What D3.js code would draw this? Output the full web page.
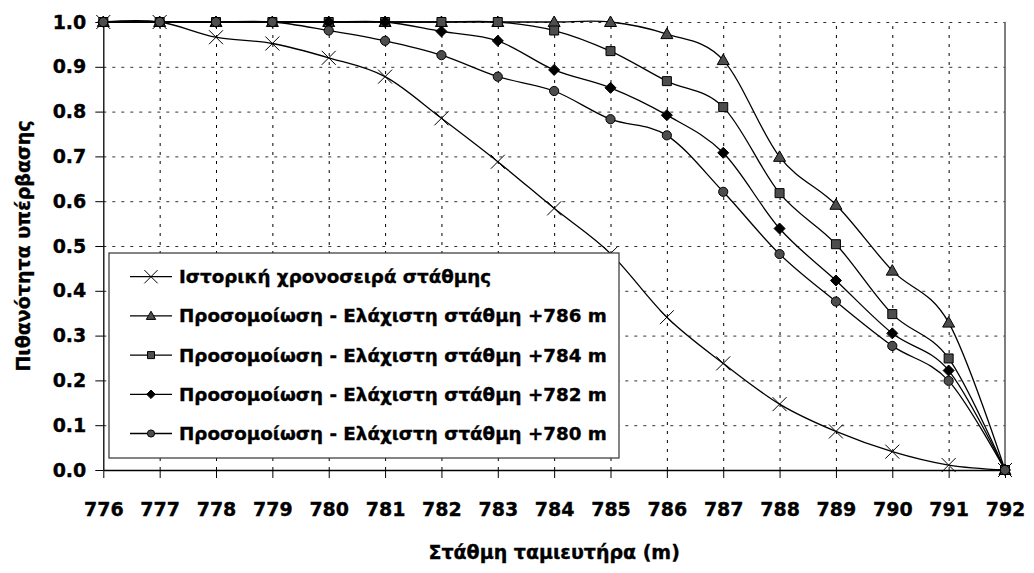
<!DOCTYPE html>
<html>
<head>
<meta charset="utf-8">
<script src="https://cdn.jsdelivr.net/npm/d3@7"></script>
<style>
    body { margin: 0; background: #fff; }
    svg text { font-family: "DejaVu Sans", Verdana, sans-serif; font-weight: bold; fill: #000; stroke: #000; stroke-width: 0.35px; }
</style>
</head>
<body>
<div class="graph"></div>
<script>
/* Data */
const levels = [776, 777, 778, 779, 780, 781, 782, 783, 784, 785, 786, 787, 788, 789, 790, 791, 792];
const y_ticks = [0.0, 0.1, 0.2, 0.3, 0.4, 0.5, 0.6, 0.7, 0.8, 0.9, 1.0];

const historic = [1.0, 1.0, 0.966, 0.952, 0.920, 0.878, 0.785, 0.688, 0.584, 0.483, 0.341, 0.238, 0.147, 0.086, 0.041, 0.011, 0.0];
const sim_786  = [1.0, 1.0, 1.0, 1.0, 1.0, 1.0, 1.0, 1.0, 1.0, 1.0, 0.973, 0.915, 0.699, 0.592, 0.445, 0.329, 0.0];
const sim_784  = [1.0, 1.0, 1.0, 1.0, 1.0, 1.0, 1.0, 1.0, 0.981, 0.935, 0.868, 0.810, 0.618, 0.504, 0.348, 0.249, 0.0];
const sim_782  = [1.0, 1.0, 1.0, 1.0, 1.0, 1.0, 0.979, 0.958, 0.893, 0.853, 0.792, 0.708, 0.539, 0.423, 0.305, 0.222, 0.0];
const sim_780  = [1.0, 1.0, 1.0, 1.0, 0.981, 0.958, 0.926, 0.878, 0.846, 0.783, 0.747, 0.621, 0.482, 0.376, 0.277, 0.199, 0.0];

const series_names = [
    'Ιστορική χρονοσειρά στάθμης',
    'Προσομοίωση - Ελάχιστη στάθμη +786 m',
    'Προσομοίωση - Ελάχιστη στάθμη +784 m',
    'Προσομοίωση - Ελάχιστη στάθμη +782 m',
    'Προσομοίωση - Ελάχιστη στάθμη +780 m'
];
const x_title = 'Στάθμη ταμιευτήρα (m)';
const y_title = 'Πιθανότητα υπέρβασης';

/* Layout */
const svg_dimensions = { width: 1034, height: 573 };
const plot = { left: 103.3, right: 1005, top: 22, bottom: 470 };
const marker_types = ['x', 'triangle', 'square', 'diamond', 'circle'];
const marker_fill = { x: 'none', triangle: '#4d4d4d', square: '#4d4d4d', diamond: '#000', circle: '#4d4d4d' };

// simple marker paths, s = scale
function marker_path(type, s) {
    switch (type) {
        case 'x':
            return 'M' + (-7*s) + ',' + (-7*s) + 'L' + (7*s) + ',' + (7*s) + 'M' + (-7*s) + ',' + (7*s) + 'L' + (7*s) + ',' + (-7*s);
        case 'triangle':
            return 'M0,' + (-6*s) + 'L' + (6*s) + ',' + (4.5*s) + 'L' + (-6*s) + ',' + (4.5*s) + 'Z';
        case 'square':
            return 'M' + (-4.5*s) + ',' + (-4.5*s) + 'h' + (9*s) + 'v' + (9*s) + 'h' + (-9*s) + 'Z';
        case 'diamond':
            return 'M0,' + (-5.5*s) + 'L' + (5.5*s) + ',0L0,' + (5.5*s) + 'L' + (-5.5*s) + ',0Z';
        case 'circle':
            return d3.symbol(d3.symbolCircle, Math.PI * Math.pow(4.6*s, 2))();
    }
}

const x_scale = d3.scaleLinear()
                .domain([levels[0], levels[levels.length - 1]])
                .range([plot.left, plot.right]);

const y_scale = d3.scaleLinear()
                .domain([0, 1])
                .range([plot.bottom, plot.top]);

let container = d3.select('.graph')
    .append('svg')
        .attr('width', svg_dimensions.width)
        .attr('height', svg_dimensions.height);

/* Grid */
container.append('g')
    .attr('transform', 'translate(0,' + plot.bottom + ')')
    .call(d3.axisBottom(x_scale).tickValues(levels.slice(1, -1)).tickSize(-(plot.bottom - plot.top)).tickFormat(''))
    .call(g => g.select('.domain').remove())
    .selectAll('line')
        .attr('stroke', '#000')
        .attr('stroke-dasharray', '3,6');

container.append('g')
    .attr('transform', 'translate(' + plot.left + ',0)')
    .call(d3.axisLeft(y_scale).tickValues(y_ticks.slice(1)).tickSize(-(plot.right - plot.left)).tickFormat(''))
    .call(g => g.select('.domain').remove())
    .selectAll('line')
        .attr('stroke', '#333')
        .attr('stroke-dasharray', '3,6');

// right border of the plot area
container.append('line')
    .attr('x1', plot.right).attr('x2', plot.right)
    .attr('y1', plot.top).attr('y2', plot.bottom)
    .attr('stroke', '#555')
    .attr('stroke-width', 1.5);

/* Axes */
let x_axis = container.append('g')
    .attr('transform', 'translate(0,' + plot.bottom + ')')
    .call(d3.axisBottom(x_scale).tickValues(levels).tickSize(8).tickSizeOuter(0).tickPadding(25).tickFormat(d3.format('d')));

let y_axis = container.append('g')
    .attr('transform', 'translate(' + plot.left + ',0)')
    .call(d3.axisLeft(y_scale).tickValues(y_ticks).tickSize(8).tickSizeOuter(0).tickPadding(9).tickFormat(d3.format('.1f')));

[x_axis, y_axis].forEach(axis => {
    axis.selectAll('text').style('font-size', '19px').attr('fill', '#000');
    axis.selectAll('line').attr('stroke', '#000');
    axis.select('.domain').attr('stroke', '#000').attr('stroke-width', 1.3);
});

container.append('text')
    .attr('x', (plot.left + plot.right) / 2)
    .attr('y', 559)
    .attr('text-anchor', 'middle')
    .style('font-size', '19px')
    .text(x_title);

container.append('text')
    .attr('transform', 'rotate(-90)')
    .attr('x', -(plot.top + plot.bottom) / 2)
    .attr('y', 30)
    .attr('text-anchor', 'middle')
    .style('font-size', '19px')
    .text(y_title);

/* Series */
const all_series = [historic, sim_786, sim_784, sim_782, sim_780];

let line_gen = d3.line()
    .x((d, i) => x_scale(levels[i]))
    .y(d => y_scale(d))
    .curve(d3.curveCatmullRom.alpha(0));

all_series.forEach((values, k) => {
    let g = container.append('g');
    g.append('path')
        .attr('d', line_gen(values))
        .attr('fill', 'none')
        .attr('stroke', '#000')
        .attr('stroke-width', 1.3);
    g.selectAll('path.marker')
        .data(values).enter().append('path')
        .attr('class', 'marker')
        .attr('transform', (d, i) => 'translate(' + x_scale(levels[i]) + ',' + y_scale(d) + ')')
        .attr('d', marker_path(marker_types[k], 1))
        .attr('fill', marker_fill[marker_types[k]])
        .attr('stroke', '#000')
        .attr('stroke-width', 1);
});

/* Legend */
const legend_box = { x: 109, y: 253, width: 510, height: 205 };
let legend = container.append('g');

legend.append('rect')
    .attr('x', legend_box.x).attr('y', legend_box.y)
    .attr('width', legend_box.width).attr('height', legend_box.height)
    .attr('fill', '#fff')
    .attr('stroke', '#333')
    .attr('stroke-width', 1.2);

let legend_rows = legend.selectAll('g.row')
    .data(series_names).enter().append('g')
    .attr('class', 'row')
    .attr('transform', (d, i) => 'translate(0,' + (276.7 + i * 39.2) + ')');

legend_rows.append('line')
    .attr('x1', 130).attr('x2', 172)
    .attr('stroke', '#000')
    .attr('stroke-width', 1.3);

legend_rows.append('path')
    .attr('transform', 'translate(151,0)')
    .attr('d', (d, i) => marker_path(marker_types[i], i === 0 ? 0.95 : 0.78))
    .attr('fill', (d, i) => marker_fill[marker_types[i]])
    .attr('stroke', '#000')
    .attr('stroke-width', 1);

legend_rows.append('text')
    .attr('x', 179)
    .attr('dy', '0.36em')
    .style('font-size', '18.3px')
    .text(d => d);
</script>
</body>
</html>
